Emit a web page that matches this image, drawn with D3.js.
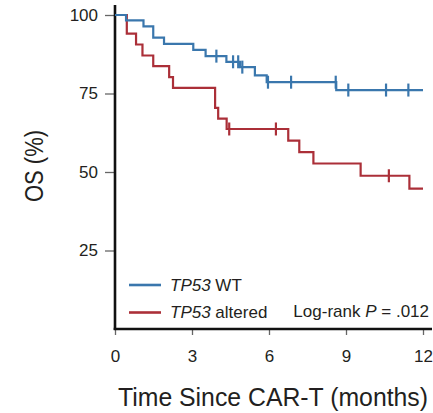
<!DOCTYPE html>
<html>
<head>
<meta charset="utf-8">
<script src="https://cdn.jsdelivr.net/npm/d3@7"></script>
<style>
  html, body { margin: 0; padding: 0; background: #fff; }
  text { font-family: "Liberation Sans", Arial, sans-serif; fill: #231f20; }
</style>
</head>
<body>
<svg id="chart" width="433" height="413"></svg>
<script>
// ---- data ----
const xTicks = [0, 3, 6, 9, 12];
const yTicks = [25, 50, 75, 100];

const wtTimes = [0, 0.43, 1.11, 1.49, 1.91, 3.05, 3.53, 4.34, 4.87, 5.45, 5.91, 8.62, 12];
const wtSurv  = [100, 98.3, 96.4, 92.8, 90.8, 88.9, 86.9, 85.1, 83.4, 80.8, 78.6, 76.1, 76.1];
const wtCensor = [3.95, 4.6, 4.8, 4.96, 5.96, 6.86, 8.6, 9.09, 10.56, 11.43];

const altTimes = [0, 0.46, 0.82, 1.07, 1.49, 2.11, 2.26, 3.90, 4.02, 4.35, 6.75, 7.18, 7.73, 9.57, 11.47, 12];
const altSurv  = [100, 94.1, 90.6, 87.1, 83.7, 80.2, 76.8, 70.4, 67.0, 63.7, 60.0, 56.3, 52.7, 48.8, 44.7, 44.7];
const altCensor = [4.45, 6.27, 10.67];

const seriesNames = ["TP53", "TP53"];
const seriesSuffix = [" WT", " altered"];
const colors = ["#3a77ad", "#ab2f38"];

// ---- layout ----
const svg = d3.select("#chart");
const x = d3.scaleLinear().domain([0, 12]).range([115, 423]);
const y = d3.scaleLinear().domain([0, 100]).range([329, 15]);

// axes
const xAxis = d3.axisBottom(x).tickValues(xTicks).tickSize(6).tickPadding(15);
const gx = svg.append("g").attr("transform", "translate(0,329)").call(xAxis);
gx.select(".domain").remove();
gx.selectAll(".tick line").attr("stroke", "#666").attr("stroke-width", 1.3);
gx.selectAll(".tick text").style("font-size", "17px").attr("fill", "#231f20")
  .style("font-family", "'Liberation Sans', Arial, sans-serif");

const yAxis = d3.axisLeft(y).tickValues(yTicks).tickSize(10).tickPadding(7);
const gy = svg.append("g").attr("transform", "translate(115,0)").call(yAxis);
gy.select(".domain").remove();
gy.selectAll(".tick line").attr("stroke", "#666").attr("stroke-width", 1.3);
gy.selectAll(".tick text").style("font-size", "17px").attr("fill", "#231f20")
  .style("font-family", "'Liberation Sans', Arial, sans-serif");

// axis lines
svg.append("line").attr("x1", 115).attr("x2", 115).attr("y1", 5).attr("y2", 330)
  .attr("stroke", "#111").attr("stroke-width", 2.6);
svg.append("line").attr("x1", 113.7).attr("x2", 432).attr("y1", 329).attr("y2", 329)
  .attr("stroke", "#111").attr("stroke-width", 2.6);

// curves
function stepValue(times, surv, t) {
  let v = surv[0];
  for (let i = 0; i < times.length; i++) if (times[i] <= t) v = surv[i];
  return v;
}
const line = d3.line().x(d => x(d[0])).y(d => y(d[1])).curve(d3.curveStepAfter);
const series = [
  { times: wtTimes, surv: wtSurv, censor: wtCensor, color: colors[0] },
  { times: altTimes, surv: altSurv, censor: altCensor, color: colors[1] }
];
[series[1], series[0]].forEach(s => {
  const pts = s.times.map((t, i) => [t, s.surv[i]]);
  svg.append("path").datum(pts).attr("d", line)
    .attr("fill", "none").attr("stroke", s.color).attr("stroke-width", 2.2);
  svg.selectAll(null).data(s.censor).enter().append("line")
    .attr("x1", d => x(d)).attr("x2", d => x(d))
    .attr("y1", d => y(stepValue(s.times, s.surv, d)) - 6.5)
    .attr("y2", d => y(stepValue(s.times, s.surv, d)) + 6.5)
    .attr("stroke", s.color).attr("stroke-width", 2.2);
});

// legend
const legY = [285, 312.5];
legY.forEach((ly, i) => {
  svg.append("line").attr("x1", 129).attr("x2", 161).attr("y1", ly).attr("y2", ly)
    .attr("stroke", colors[i]).attr("stroke-width", 2.6);
  const t = svg.append("text").attr("x", 170).attr("y", ly + 5.5).style("font-size", "17px");
  t.append("tspan").style("font-style", "italic").text(seriesNames[i]);
  t.append("tspan").text(seriesSuffix[i]);
});

// log-rank
const lr = svg.append("text").attr("x", 429).attr("y", 317).attr("text-anchor", "end")
  .style("font-size", "17px");
lr.append("tspan").text("Log-rank ");
lr.append("tspan").style("font-style", "italic").text("P");
lr.append("tspan").text(" = .012");

// axis titles
svg.append("text").attr("x", 273).attr("y", 406).attr("text-anchor", "middle")
  .style("font-size", "25px").attr("textLength", 310).attr("lengthAdjust", "spacingAndGlyphs")
  .text("Time Since CAR-T (months)");
svg.append("text").attr("transform", "translate(43,166) rotate(-90)").attr("text-anchor", "middle")
  .style("font-size", "26px").attr("textLength", 72).attr("lengthAdjust", "spacingAndGlyphs")
  .text("OS (%)");
</script>
</body>
</html>
